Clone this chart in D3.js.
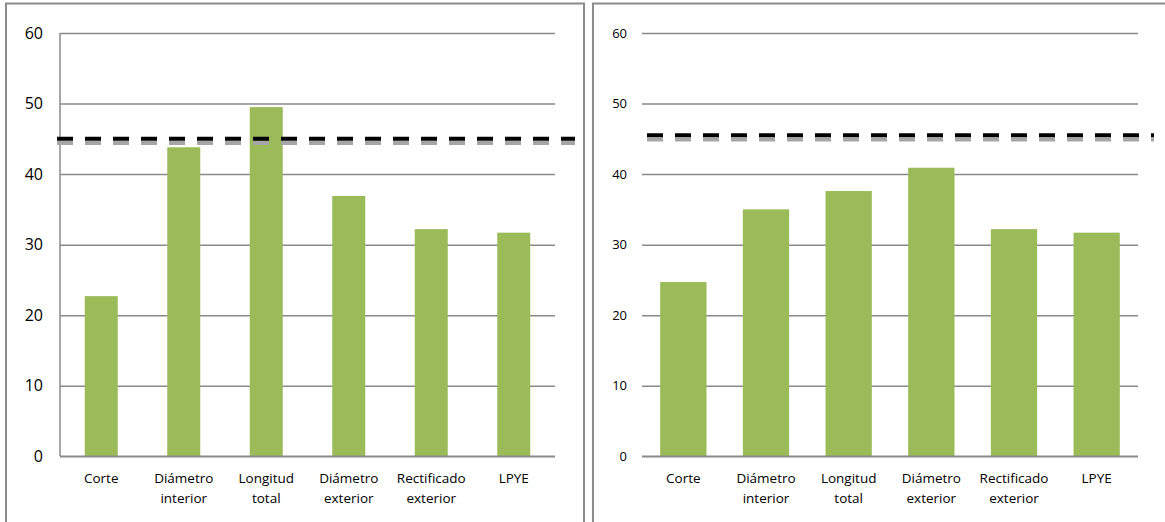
<!DOCTYPE html>
<html>
<head>
<meta charset="utf-8">
<script src="https://cdn.jsdelivr.net/npm/d3@7"></script>
<style>
  html, body { margin: 0; padding: 0; background: #fff; }
  svg { display: block; font-family: "Open Sans", sans-serif; }
</style>
</head>
<body>
<svg id="chart" width="1165" height="522"></svg>
<script>
// Categories shared by both panels (two-line labels)
const categories = ["Corte", "Diámetro interior", "Longitud total", "Diámetro exterior", "Rectificado exterior", "LPYE"];
const categoryLines = [["Corte"], ["Diámetro", "interior"], ["Longitud", "total"], ["Diámetro", "exterior"], ["Rectificado", "exterior"], ["LPYE"]];

// Bar values, left and right panels
const valuesLeft = [22.7, 43.8, 49.5, 36.9, 32.2, 31.7];
const valuesRight = [24.7, 35.0, 37.6, 40.9, 32.2, 31.7];

// Reference levels drawn as dashed lines (black and grey)
const limitLeft = [45.0, 44.4];
const limitRight = [45.5, 44.9];

const yTicks = [0, 10, 20, 30, 40, 50, 60];

const svg = d3.select("#chart");
const barColor = "#9bbb59";
const gridColor = "#8a8a8a";

function panel(cfg) {
  const g = svg.append("g");

  // panel frame
  g.append("rect")
    .attr("x", cfg.frame[0]).attr("y", cfg.frame[1])
    .attr("width", cfg.frame[2]).attr("height", cfg.frame[3])
    .attr("fill", "none").attr("stroke", "#8c8c8c").attr("stroke-width", 2);

  const x = d3.scaleBand().domain(categories).range([cfg.x0, cfg.x1]).paddingInner(cfg.pad).paddingOuter(cfg.pad / 2);
  const y = d3.scaleLinear().domain([0, 60]).range([cfg.y0, cfg.y1]);

  // horizontal gridlines
  const yAxis = d3.axisLeft(y).tickValues(yTicks).tickSize(-(cfg.x1 - cfg.x0)).tickPadding(cfg.tickPad).tickFormat(d3.format("d"));
  const ya = g.append("g").attr("transform", `translate(${cfg.x0},0)`).call(yAxis);
  ya.select(".domain").remove();
  ya.selectAll(".tick line").attr("stroke", gridColor).attr("stroke-width", 1.5);
  ya.selectAll(".tick text").attr("fill", "#000").attr("font-size", cfg.yFont).attr("font-family", "Open Sans, sans-serif");

  if (cfg.axisLine) {
    g.append("line")
      .attr("x1", cfg.x0).attr("x2", cfg.x0)
      .attr("y1", y(0)).attr("y2", y(60))
      .attr("stroke", gridColor).attr("stroke-width", 1.5);
  }

  // bars
  g.selectAll("rect.bar").data(cfg.values).enter().append("rect")
    .attr("class", "bar")
    .attr("x", (d, i) => x(categories[i]))
    .attr("width", x.bandwidth())
    .attr("y", d => y(d))
    .attr("height", d => y(0) - y(d))
    .attr("fill", barColor);

  // baseline
  g.append("line")
    .attr("x1", cfg.x0).attr("x2", cfg.x1)
    .attr("y1", y(0)).attr("y2", y(0))
    .attr("stroke", gridColor).attr("stroke-width", 1.5);

  // category labels
  categoryLines.forEach((lines, i) => {
    const cx = x(categories[i]) + x.bandwidth() / 2;
    const t = g.append("text")
      .attr("text-anchor", "middle")
      .attr("font-size", 13.5)
      .attr("fill", "#000");
    lines.forEach((s, k) => {
      t.append("tspan").attr("x", cx).attr("y", 482.5 + k * 20).text(s);
    });
  });

  // dashed reference lines: grey first, black on top
  const dashColors = ["#000000", "#a6a6a6"];
  [1, 0].forEach(k => {
    g.append("line")
      .attr("x1", cfg.dash0).attr("x2", cfg.dash1)
      .attr("y1", y(cfg.limits[k])).attr("y2", y(cfg.limits[k]))
      .attr("stroke", dashColors[k]).attr("stroke-width", 4)
      .attr("stroke-dasharray", "16,12");
  });
}

panel({
  frame: [6, 3.5, 578, 540],
  x0: 60, x1: 555, y0: 456.3, y1: 33,
  pad: 0.6, tickPad: 17, yFont: 16, axisLine: true,
  values: valuesLeft, limits: limitLeft,
  dash0: 57, dash1: 575
});

panel({
  frame: [593, 3.5, 600, 540],
  x0: 642, x1: 1138, y0: 456.3, y1: 33,
  pad: 0.44, tickPad: 15, yFont: 13, axisLine: false,
  values: valuesRight, limits: limitRight,
  dash0: 647, dash1: 1154
});
</script>
</body>
</html>
